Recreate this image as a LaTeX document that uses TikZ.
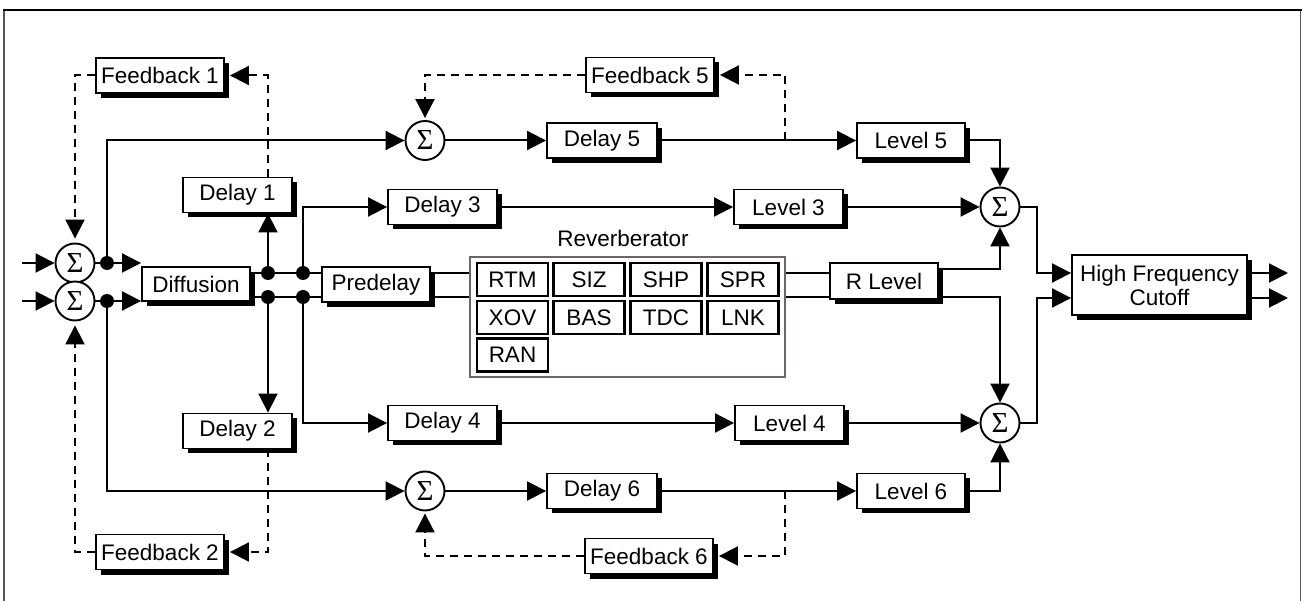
\documentclass[tikz,border=0pt]{standalone}
\usepackage{fontspec}
\setmainfont{Liberation Sans}
\newfontfamily\sigfont{Liberation Serif}
\usetikzlibrary{arrows.meta,shadows,calc}
\definecolor{revgray}{HTML}{6E6664}
\definecolor{framegray}{HTML}{555555}
\begin{document}
\begin{tikzpicture}[x=1pt,y=-1pt,
 every node/.style={font=\fontsize{22.5}{24}\selectfont},
 box/.style={draw, line width=1.9pt, fill=white, minimum height=35pt, inner sep=0pt,
   drop shadow={shadow xshift=5pt, shadow yshift=-5pt, opacity=1, fill=black}},
 sub/.style={draw, line width=2.1pt, fill=white, minimum width=71pt, minimum height=33pt, inner sep=0pt},
 sum/.style={draw, circle, line width=1.9pt, fill=white, minimum size=39pt, inner sep=0pt,
   font=\sigfont\fontsize{29}{29}\selectfont},
 dot/.style={circle, fill=black, minimum size=14pt, inner sep=0pt},
 wire/.style={line width=2pt},
 arr/.style={wire, -{Triangle[length=19pt,width=19pt]}},
 fb/.style={wire, dash pattern=on 8pt off 6pt},
 fbarr/.style={fb, -{Triangle[length=19pt,width=19pt]}},
]
\useasboundingbox (0,0) rectangle (1302,601);
% frame
\draw[framegray, line width=1.5pt] (4,10) -- (4,601);
\draw[framegray, line width=1.5pt] (1300.5,10) -- (1300.5,601);
\draw[line width=2.5pt] (3,10) -- (1301.5,10);

% reverberator block
\node[draw=revgray, line width=2.2pt, minimum width=315pt, minimum height=120pt, inner sep=0pt] (RV) at (627.5,317) {};
\node[anchor=base] (RVL) at (623,247) {Reverberator};
\node[sub] (RTM) at (512.5,279.5) {RTM};
\node[sub] (SIZ) at (589,279.5) {SIZ};
\node[sub] (SHP) at (666,279.5) {SHP};
\node[sub] (SPR) at (743,279.5) {SPR};
\node[sub] (XOV) at (512.5,317.5) {XOV};
\node[sub] (BAS) at (589,317.5) {BAS};
\node[sub] (TDC) at (666,317.5) {TDC};
\node[sub] (LNK) at (743,317.5) {LNK};
\node[sub] (RAN) at (512.5,355) {RAN};

% boxes
\node[box, minimum width=128pt] (F1) at (160,75.5) {Feedback 1};
\node[box, minimum width=128pt] (F2) at (160,552) {Feedback 2};
\node[box, minimum width=109pt] (D1) at (237.5,195) {Delay 1};
\node[box, minimum width=109pt] (D2) at (237.5,431) {Delay 2};
\node[box, minimum width=108pt, minimum height=34pt] (DF) at (196,284) {Diffusion};
\node[box, minimum width=108pt] (PD) at (376,284.5) {Predelay};
\node[box, minimum width=109pt] (D3) at (442.5,207) {Delay 3};
\node[box, minimum width=109pt] (D4) at (442.5,423) {Delay 4};
\node[box, minimum width=110pt] (D5) at (602,140.5) {Delay 5};
\node[box, minimum width=110pt] (D6) at (602,491) {Delay 6};
\node[box, minimum width=128pt] (F5) at (650,75) {Feedback 5};
\node[box, minimum width=128pt] (F6) at (649,556) {Feedback 6};
\node[box, minimum width=109pt] (V3) at (788.5,207) {Level 3};
\node[box, minimum width=109pt] (V4) at (789.5,423) {Level 4};
\node[box, minimum width=108pt] (V5) at (911,140.5) {Level 5};
\node[box, minimum width=108pt] (V6) at (911,491) {Level 6};
\node[box, minimum width=108pt, minimum height=36pt] (RL) at (884,281) {R Level};
\node[box, minimum width=175pt, minimum height=60pt, align=center] (HF) at (1159.5,285) {High Frequency\\Cutoff};

% summing junctions
\node[sum] (L1) at (75,263) {Σ};
\node[sum] (L2) at (75,301) {Σ};
\node[sum] (S5) at (425,140.5) {Σ};
\node[sum] (S6) at (425,491) {Σ};
\node[sum] (S3) at (1000,207) {Σ};
\node[sum] (S4) at (1000,423) {Σ};

% junction dots and free ends
\node[dot] (p1) at (107,263) {};
\node[dot] (p2) at (107,301) {};
\node[dot] (a1) at (268,273) {};
\node[dot] (a2) at (268,297) {};
\node[dot] (b1) at (303,273) {};
\node[dot] (b2) at (303,297) {};
\coordinate (in1) at (22,263);
\coordinate (in2) at (22,301);
\coordinate (t5) at (785,140.5);
\coordinate (t6) at (785,491);
\coordinate (c1) at (1037,273);
\coordinate (c2) at (1037,298);
\coordinate (o1) at (1288,273);
\coordinate (o2) at (1288,298);

% inputs
\draw[arr] (in1) -- (L1.west);
\draw[arr] (in2) -- (L2.west);
\draw[wire] (L1.east) -- (p1);
\draw[wire] (L2.east) -- (p2);
\draw[arr] (p1) -- (p1 -| DF.west);
\draw[arr] (p2) -- (p2 -| DF.west);
\draw[arr] (p1) |- (S5.west);
\draw[arr] (p2) |- (S6.west);

% diffusion outputs
\draw[wire] (DF.east |- a1) -- (a1) -- (b1) -- (b1 -| PD.west);
\draw[wire] (DF.east |- a2) -- (a2) -- (b2) -- (b2 -| PD.west);
\draw[wire] (PD.east |- b1) -- (b1 -| RV.west);
\draw[wire] (PD.east |- b2) -- (b2 -| RV.west);
\draw[wire] (RV.east |- b1) -- (b1 -| RL.west);
\draw[wire] (RV.east |- b2) -- (b2 -| RL.west);
\draw[arr] ([yshift=12pt]RL.east) -| (S3.south);
\draw[arr] (RL.east |- a2) -| (S4.north);

% delay 1 / 2 with feedback
\draw[arr] (a1) -- (a1 |- D1.south);
\draw[arr] (a2) -- (a2 |- D2.north);
\draw[fbarr] (a1 |- D1.north) |- ([xshift=5pt]F1.east);
\draw[fbarr, shorten >=4pt] (F1.west) -| (L1.north);
\draw[fbarr] (a2 |- D2.south) |- ([xshift=5pt]F2.east);
\draw[fbarr, shorten >=4pt] (F2.west) -| (L2.south);

% delay 3 / 4 rows
\draw[arr] (b1) |- (D3.west);
\draw[arr] (D3.east) -- (V3.west);
\draw[arr] (V3.east) -- (S3.west);
\draw[arr] (b2) |- (D4.west);
\draw[arr] (D4.east) -- (V4.west);
\draw[arr] (V4.east) -- (S4.west);

% delay 5 / 6 rows
\draw[arr] (S5.east) -- (D5.west);
\draw[arr] (D5.east) -- (V5.west);
\draw[arr] (V5.east) -| (S3.north);
\draw[fbarr] (t5) |- ([xshift=5pt]F5.east);
\draw[fbarr, shorten >=2pt] (F5.west) -| (S5.north);
\draw[arr] (S6.east) -- (D6.west);
\draw[arr] (D6.east) -- (V6.west);
\draw[arr] (V6.east) -| (S4.south);
\draw[fbarr] (t6) |- ([xshift=5pt]F6.east);
\draw[fbarr, shorten >=2pt] (F6.west) -| (S6.south);

% to high frequency cutoff
\draw[arr] (S3.east) -| (c1) -- (c1 -| HF.west);
\draw[arr] (S4.east) -| (c2) -- (c2 -| HF.west);
\draw[arr] (HF.east |- c1) -- (o1);
\draw[arr] (HF.east |- c2) -- (o2);
\end{tikzpicture}
\end{document}
